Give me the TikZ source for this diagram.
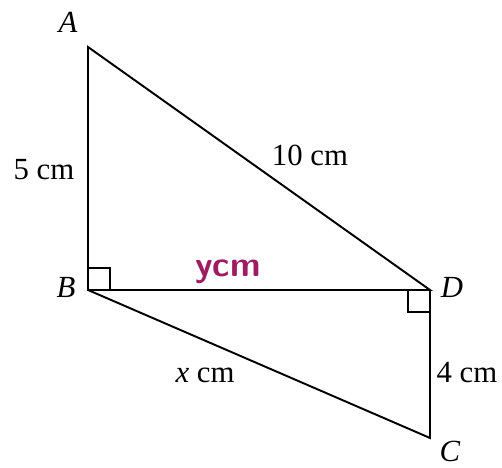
\documentclass[tikz,border=0pt]{standalone}
\usepackage{fontspec}
\setmainfont{Liberation Serif}
\definecolor{inkpurple}{RGB}{158,28,98}
\tikzset{
    side/.style={line width=1.1pt},
    lbl/.style={font=\fontsize{17.5}{20}\selectfont, inner sep=0pt},
}
\begin{document}
\begin{tikzpicture}
    \useasboundingbox (0,0) rectangle (10.04,9.36);
    \coordinate (A) at (1.76,8.42);
    \coordinate (B) at (1.76,3.56);
    \coordinate (D) at (8.6,3.56);
    \coordinate (C) at (8.6,0.6);
    \draw[side] (A) -- (B) -- (D) -- cycle;
    \draw[side] (B) -- (C) -- (D);
    \draw[line width=0.9pt] (1.76,4.0) -- (2.2,4.0) -- (2.2,3.56);
    \draw[line width=0.9pt] (8.16,3.56) -- (8.16,3.12) -- (8.6,3.12);
    \node[lbl] (la) at (1.36,8.92) {\textit{A}};
    \node[lbl] (lb) at (1.32,3.62) {\textit{B}};
    \node[lbl] (ld) at (9.04,3.62) {\textit{D}};
    \node[lbl] (lc) at (9.0,0.34) {\textit{C}};
    \node[lbl] (ab) at (0.88,5.96) {5 cm};
    \node[lbl] (ad) at (6.2,6.26) {10 cm};
    \node[lbl] (bc) at (4.1,1.86) {\textit{x} cm};
    \node[lbl] (dc) at (9.34,1.9) {4 cm};
    \node[inner sep=0pt, text=inkpurple, font=\sffamily\bfseries\fontsize{20}{22}\selectfont] (bd) at (4.56,3.92) {ycm};
\end{tikzpicture}
\end{document}
